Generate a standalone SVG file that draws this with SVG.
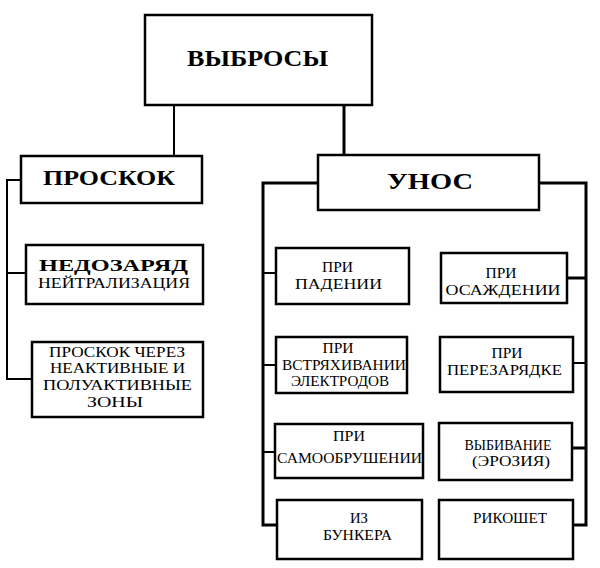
<svg xmlns="http://www.w3.org/2000/svg" width="600" height="568" viewBox="0 0 600 568">
<style>
.box{fill:#fff;stroke:#000;stroke-width:2.5}
.c{fill:none;stroke:#000;stroke-width:2}
.ct{fill:none;stroke:#000;stroke-width:3}
text{font-family:"Liberation Serif","Times New Roman",serif;fill:#000;text-anchor:middle}
.b{font-weight:bold}
.s{font-size:15px}
</style>
<rect width="600" height="568" fill="#fff"/>
<g id="connectors">
<line class="c" x1="174" y1="105" x2="174" y2="156"/>
<line class="ct" x1="344" y1="105" x2="344" y2="156"/>
<polyline class="c" points="21,180 7,180 7,379 32,379"/>
<line class="c" x1="7" y1="273" x2="26" y2="273"/>
<polyline class="ct" points="318,183 263,183 263,525 277,525"/>
<line class="c" x1="263" y1="273" x2="276" y2="273"/>
<line class="c" x1="263" y1="365" x2="276" y2="365"/>
<line class="c" x1="263" y1="452" x2="275" y2="452"/>
<polyline class="ct" points="539,183 586,183 586,525 573,525"/>
<line class="ct" x1="567" y1="278" x2="586" y2="278"/>
<line class="c" x1="573" y1="363" x2="586" y2="363"/>
<line class="ct" x1="572" y1="448" x2="586" y2="448"/>
</g>
<g id="vybrosy">
<rect class="box" x="145" y="15" width="227" height="90"/>
<text class="b" x="257.5" y="66" font-size="24" textLength="141" lengthAdjust="spacingAndGlyphs">ВЫБРОСЫ</text>
</g>
<g id="proskok">
<rect class="box" x="21" y="156" width="181" height="47"/>
<text class="b" x="109" y="185" font-size="20" textLength="132" lengthAdjust="spacingAndGlyphs">ПРОСКОК</text>
</g>
<g id="unos">
<rect class="box" x="318" y="155" width="221" height="55"/>
<text class="b" x="430" y="189" font-size="24" textLength="86" lengthAdjust="spacingAndGlyphs">УНОС</text>
</g>
<g id="nedozaryad">
<rect class="box" x="26" y="245" width="177" height="59"/>
<text class="b" x="113.5" y="271" font-size="17" textLength="149" lengthAdjust="spacingAndGlyphs">НЕДОЗАРЯД</text>
<text x="114" y="288" font-size="14" textLength="152" lengthAdjust="spacingAndGlyphs">НЕЙТРАЛИЗАЦИЯ</text>
</g>
<g id="proskok-cherez">
<rect class="box" x="32" y="342" width="171" height="75"/>
<text class="s" x="117" y="357" textLength="136" lengthAdjust="spacingAndGlyphs">ПРОСКОК ЧЕРЕЗ</text>
<text class="s" x="117.5" y="373" textLength="135" lengthAdjust="spacingAndGlyphs">НЕАКТИВНЫЕ И</text>
<text class="s" x="117.5" y="390" textLength="149" lengthAdjust="spacingAndGlyphs">ПОЛУАКТИВНЫЕ</text>
<text class="s" x="115" y="407" textLength="56" lengthAdjust="spacingAndGlyphs">ЗОНЫ</text>
</g>
<g id="pri-padenii">
<rect class="box" x="276" y="248" width="133" height="56"/>
<text class="s" x="337.5" y="272" textLength="31" lengthAdjust="spacingAndGlyphs">ПРИ</text>
<text class="s" x="338.5" y="289" textLength="87" lengthAdjust="spacingAndGlyphs">ПАДЕНИИ</text>
</g>
<g id="pri-osazhdenii">
<rect class="box" x="441" y="253" width="126" height="50"/>
<text class="s" x="501" y="278" textLength="31" lengthAdjust="spacingAndGlyphs">ПРИ</text>
<text class="s" x="503" y="295" textLength="115" lengthAdjust="spacingAndGlyphs">ОСАЖДЕНИИ</text>
</g>
<g id="pri-vstryahivanii">
<rect class="box" x="276" y="337" width="131" height="56"/>
<text class="s" x="338" y="353" textLength="31" lengthAdjust="spacingAndGlyphs">ПРИ</text>
<text class="s" x="344" y="370" textLength="124" lengthAdjust="spacingAndGlyphs">ВСТРЯХИВАНИИ</text>
<text class="s" x="340" y="386" textLength="98" lengthAdjust="spacingAndGlyphs">ЭЛЕКТРОДОВ</text>
</g>
<g id="pri-perezaryadke">
<rect class="box" x="440" y="337" width="133" height="55"/>
<text class="s" x="507" y="358" textLength="31" lengthAdjust="spacingAndGlyphs">ПРИ</text>
<text class="s" x="504.5" y="375" textLength="115" lengthAdjust="spacingAndGlyphs">ПЕРЕЗАРЯДКЕ</text>
</g>
<g id="pri-samoobrushenii">
<rect class="box" x="275" y="424" width="148" height="54"/>
<text class="s" x="349" y="441" textLength="32" lengthAdjust="spacingAndGlyphs">ПРИ</text>
<text class="s" x="349.5" y="463" textLength="145" lengthAdjust="spacingAndGlyphs">САМООБРУШЕНИИ</text>
</g>
<g id="vybivanie">
<rect class="box" x="439" y="423" width="133" height="57"/>
<text class="s" x="508" y="450" textLength="87" lengthAdjust="spacingAndGlyphs">ВЫБИВАНИЕ</text>
<text class="s" x="511" y="466" textLength="78" lengthAdjust="spacingAndGlyphs">(ЭРОЗИЯ)</text>
</g>
<g id="iz-bunkera">
<rect class="box" x="277" y="500" width="145" height="59"/>
<text class="s" x="359" y="523" textLength="18" lengthAdjust="spacingAndGlyphs">ИЗ</text>
<text class="s" x="357.5" y="540" textLength="69" lengthAdjust="spacingAndGlyphs">БУНКЕРА</text>
</g>
<g id="rikoshet">
<rect class="box" x="439" y="500" width="134" height="59"/>
<text class="s" x="510" y="523" textLength="74" lengthAdjust="spacingAndGlyphs">РИКОШЕТ</text>
</g>
</svg>
